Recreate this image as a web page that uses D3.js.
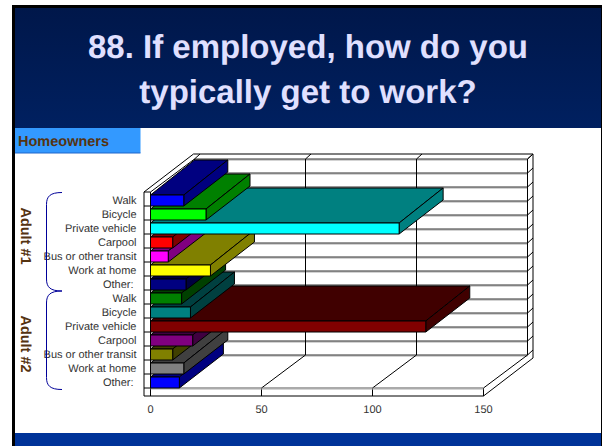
<!DOCTYPE html>
<html>
<head>
<meta charset="utf-8">
<script src="https://cdn.jsdelivr.net/npm/d3@7"></script>
<style>
  html, body { margin: 0; padding: 0; background: #fff; overflow: hidden; }
  text { font-family: "Liberation Sans", Arial, sans-serif; text-rendering: geometricPrecision; }
</style>
</head>
<body>
<div id="main"></div>
<script>
const titleLines = ["88. If employed, how do you", "typically get to work?"]
const groupLabels = ["Adult #1", "Adult #2"]
const categories = ["Walk", "Bicycle", "Private vehicle", "Carpool", "Bus or other transit", "Work at home", "Other: ",
                    "Walk", "Bicycle", "Private vehicle", "Carpool", "Bus or other transit", "Work at home", "Other: "]
const values = [15, 25, 112, 10, 8, 27, 16, 14, 18, 124, 19, 10, 15, 13]
const frontColors = ["#0000ff", "#00ff00", "#00ffff", "#ff0000", "#ff00ff", "#ffff00", "#000080",
                     "#008000", "#008080", "#800000", "#800080", "#808000", "#808080", "#0000ff"]
const sideColors = ["#000080", "#008000", "#008080", "#800000", "#800080", "#808000", "#000040",
                    "#004000", "#004040", "#400000", "#400040", "#404000", "#404040", "#000080"]
const xTicks = [0, 50, 100, 150]

const width = 602
const height = 446

// front plane of the 3d box, depth goes up and to the right
const plotLeft = 150.5, plotRight = 483.5, plotTop = 192, plotBottom = 388
const dx = 44, dy = 33
const wallX = 6.5, wallY = 8
// bars reach slightly further back than the grid
const barDyTop = 35, barDyBot = 34

const svg = d3.select("#main").append("svg")
    .attr("width", width).attr("height", height)
    .style("display", "block")

const defs = svg.append("defs")
const grad = defs.append("linearGradient").attr("id", "head").attr("x2", 0).attr("y2", 1)
grad.append("stop").attr("offset", 0).attr("stop-color", "#00174a")
grad.append("stop").attr("offset", 1).attr("stop-color", "#002060")

// slide frame
svg.append("rect").attr("x", 15).attr("y", 8).attr("width", 586).attr("height", 120).attr("fill", "url(#head)")
svg.append("rect").attr("x", 12).attr("y", 5).attr("width", 590).attr("height", 3).attr("fill", "#000")
svg.append("rect").attr("x", 12).attr("y", 5).attr("width", 3).attr("height", 441).attr("fill", "#000")
svg.append("rect").attr("x", 601).attr("y", 5).attr("width", 1).attr("height", 441).attr("fill", "#000")
svg.append("rect").attr("x", 15).attr("y", 433).attr("width", 586).attr("height", 13).attr("fill", "#003399")

svg.selectAll(".title")
    .data(titleLines)
    .enter()
    .append("text")
    .attr("class", "title")
    .attr("x", 308)
    .attr("y", (d, i) => 58 + i * 44.5)
    .attr("text-anchor", "middle")
    .attr("font-size", 33)
    .attr("font-weight", "bold")
    .attr("fill", "#e0e0ff")
    .text(d => d)

svg.append("rect").attr("x", 15).attr("y", 128).attr("width", 125.5).attr("height", 25).attr("fill", "#3399ff")
svg.append("rect").attr("x", 15).attr("y", 152.5).attr("width", 125.5).attr("height", 1).attr("fill", "#1f66cc")
svg.append("text").attr("x", 18).attr("y", 146).attr("font-size", 14.5).attr("font-weight", "bold")
    .attr("fill", "#553311").text("Homeowners")

// scales
const xScale = d3.scaleLinear().domain([0, 150]).range([plotLeft, plotRight])
const yScale = d3.scaleBand().domain(d3.range(categories.length)).range([plotTop, plotBottom])

const chart = svg.append("g")
const line = (x1, y1, x2, y2, color) => chart.append("line")
    .attr("x1", x1).attr("y1", y1).attr("x2", x2).attr("y2", y2)
    .attr("stroke", color || "#000").attr("stroke-width", 1)

// walls and floor
const rows = d3.range(categories.length + 1).map(i => plotTop + i * yScale.step())
rows.forEach((y, i) => {
    // back wall line, with the little return on the right side
    line(plotLeft + dx, y - dy + 1, plotRight + dx, y - dy + 1, "#a8a8a8")
    line(plotLeft + dx, y - dy, plotRight + dx, y - dy, "#303030")
    line(plotRight + dx, y - dy, plotRight + dx + wallX - 1, y - dy - 5)
    // left wall
    line(plotLeft, y, plotLeft + dx, y - dy, "#000")
    line(plotLeft - wallX, y, plotLeft, y, "#000")
})
xTicks.forEach(t => {
    const x = xScale(t)
    line(x + dx, plotTop - dy, x + dx, plotBottom - dy, "#000")
    line(x, plotBottom, x + dx, plotBottom - dy, "#000")
    line(x, plotBottom, x, plotBottom + wallY, "#000")
    line(x + dx, plotTop - dy, x + dx + wallX - 1, plotTop - dy - 5, "#000")
})
line(plotLeft - wallX, plotTop, plotLeft - wallX, plotBottom + wallY)
line(plotLeft, plotTop, plotLeft, plotBottom)
line(plotLeft - wallX, plotBottom + wallY, plotRight, plotBottom + wallY)
line(plotLeft, plotBottom, plotRight, plotBottom, "#555")
line(plotLeft, plotBottom + 1, plotRight, plotBottom + 1, "#aaa")
line(plotLeft - wallX, plotTop, plotLeft + dx - 1, plotTop - dy - 5)
line(plotLeft + dx - 1, plotTop - dy - 5, plotRight + dx + wallX - 1, plotTop - dy - 5)
line(plotRight + dx + wallX - 1, plotTop - dy - 5, plotRight + dx + wallX - 1, plotBottom - dy + 3)
line(plotRight + dx + wallX - 1, plotBottom - dy + 3, plotRight, plotBottom + wallY)

// bars, bottom one first so the upper ones sit on top
const bars = chart.selectAll(".bar")
    .data(d3.range(categories.length).reverse())
    .enter()
    .append("g")
    .attr("class", "bar")
    .attr("stroke", "#000")
    .attr("stroke-width", 1)
    .attr("stroke-linejoin", "round")

const barTop = i => yScale(i) + 3
const barBot = i => yScale(i) + yScale.step()

bars.append("polygon")
    .attr("fill", i => sideColors[i])
    .attr("points", i => {
        const x = xScale(values[i]), y = barTop(i)
        return [[plotLeft, y], [plotLeft + dx, y - barDyTop], [x + dx, y - barDyTop], [x, y]].join(" ")
    })
bars.append("polygon")
    .attr("fill", i => sideColors[i])
    .attr("points", i => {
        const x = xScale(values[i])
        return [[x, barTop(i)], [x + dx, barTop(i) - barDyTop], [x + dx, barBot(i) - barDyBot], [x, barBot(i)]].join(" ")
    })
bars.append("rect")
    .attr("x", plotLeft)
    .attr("y", i => barTop(i))
    .attr("width", i => xScale(values[i]) - plotLeft)
    .attr("height", i => barBot(i) - barTop(i))
    .attr("fill", i => frontColors[i])

// labels
svg.selectAll(".cat")
    .data(categories)
    .enter()
    .append("text")
    .attr("class", "cat")
    .attr("x", d => d.endsWith(" ") ? 133.5 : 136.5)
    .attr("y", (d, i) => yScale(i) + 12)
    .attr("text-anchor", "end")
    .attr("font-size", 11)
    .attr("fill", "#333")
    .text(d => d.trim())

svg.selectAll(".tick-label")
    .data(xTicks)
    .enter()
    .append("text")
    .attr("class", "tick-label")
    .attr("x", d => xScale(d))
    .attr("y", 413)
    .attr("text-anchor", "middle")
    .attr("font-size", 11)
    .attr("fill", "#333")
    .text(d => d)

// curly brackets at the left
const brace = (y0, y1) => `M62,${y0} C50,${y0} 46.5,${y0 + 4} 46.5,${y0 + 12}`
    + ` L46.5,${y1 - 12} C46.5,${y1 - 4} 50,${y1} 62,${y1}`
svg.append("path").attr("d", brace(192.5, 291)).attr("fill", "none").attr("stroke", "#000099")
svg.append("path").attr("d", brace(291, 389.5)).attr("fill", "none").attr("stroke", "#000099")

svg.selectAll(".group")
    .data(groupLabels)
    .enter()
    .append("text")
    .attr("class", "group")
    .attr("transform", (d, i) => `translate(20.5,${i ? 344 : 236}) rotate(90)`)
    .attr("text-anchor", "middle")
    .attr("font-size", 14.5)
    .attr("font-weight", "bold")
    .attr("fill", "#553311")
    .text(d => d)
</script>
</body>
</html>
